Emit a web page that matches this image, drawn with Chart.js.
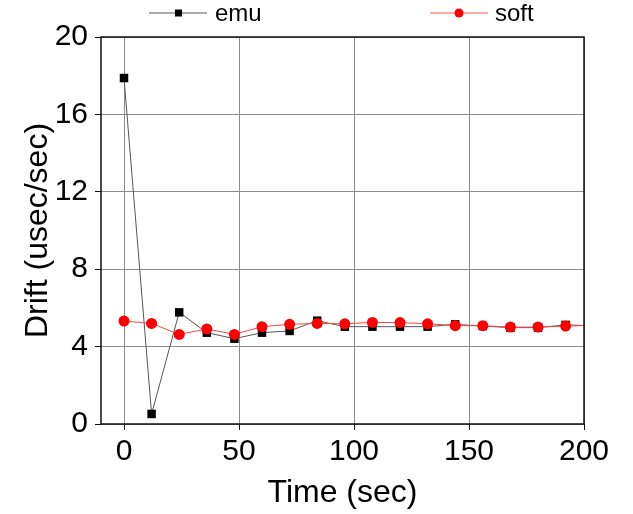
<!DOCTYPE html>
<html>
<head>
<meta charset="utf-8">
<script src="https://cdn.jsdelivr.net/npm/chart.js@4/dist/chart.umd.min.js"></script>
<style>
  html, body { margin: 0; padding: 0; background: #fff; }
  #wrap { width: 633px; height: 514px; }
</style>
</head>
<body>
<div id="wrap"><canvas id="driftChart" width="633" height="514"></canvas></div>
<script>
// sample times (sec) and measured drift (usec/sec)
const times = [0, 12, 24, 36, 48, 60, 72, 84, 96, 108, 120, 132, 144, 156, 168, 180, 192, 204];
const emuDrift = [17.88, 0.52, 5.77, 4.72, 4.41, 4.72, 4.81, 5.34, 5.03, 5.03, 5.03, 5.03, 5.15, 5.06, 4.98, 4.98, 5.12, 5.08];
const softDrift = [5.32, 5.2, 4.63, 4.91, 4.63, 5.03, 5.15, 5.2, 5.18, 5.25, 5.24, 5.18, 5.08, 5.08, 5.01, 5.01, 5.06, 5.1];
const xTicks = [0, 50, 100, 150, 200];
const yTicks = [0, 2, 4, 6, 8, 10, 12, 14, 16, 18, 20];

const FONT = "'Liberation Sans', Arial, sans-serif";

function toPoints(ys) {
  return times.map((t, i) => ({ x: t, y: ys[i] }));
}

// frame + legend drawn by hand to match the original layout
const framePlugin = {
  id: "frame",
  afterDraw(chart) {
    const { ctx, chartArea: a } = chart;
    ctx.save();
    ctx.strokeStyle = "#111";
    ctx.lineWidth = 1.5;
    ctx.strokeRect(a.left, a.top, a.right - a.left, a.bottom - a.top);

    // legend
    ctx.font = "24px " + FONT;
    ctx.textBaseline = "middle";
    ctx.fillStyle = "#000";
    const ly = 13;
    ctx.lineWidth = 1;
    ctx.strokeStyle = "#555";
    ctx.beginPath(); ctx.moveTo(149, ly); ctx.lineTo(207, ly); ctx.stroke();
    ctx.fillStyle = "#000";
    ctx.fillRect(175, ly - 3.5, 7, 7);
    ctx.fillText("emu", 215, ly + 1);

    ctx.strokeStyle = "#f55";
    ctx.beginPath(); ctx.moveTo(430, ly); ctx.lineTo(488, ly); ctx.stroke();
    ctx.fillStyle = "#f00";
    ctx.beginPath(); ctx.arc(459, ly, 4.5, 0, Math.PI * 2); ctx.fill();
    ctx.fillStyle = "#000";
    ctx.fillText("soft", 495, ly + 1);
    ctx.restore();
  }
};

const ctx = document.getElementById("driftChart").getContext("2d");
new Chart(ctx, {
  type: "line",
  data: {
    datasets: [
      {
        label: "emu",
        data: toPoints(emuDrift),
        borderColor: "#555",
        borderWidth: 1,
        backgroundColor: "#000",
        pointStyle: "rect",
        pointRadius: 6,
        pointBorderWidth: 0,
        pointBackgroundColor: "#000",
        tension: 0,
        clip: 0,
        order: 2
      },
      {
        label: "soft",
        data: toPoints(softDrift),
        borderColor: "#f44",
        borderWidth: 1,
        backgroundColor: "#f00",
        pointStyle: "circle",
        pointRadius: 5.5,
        pointBorderWidth: 0,
        pointBackgroundColor: "#f00",
        tension: 0,
        clip: 0,
        order: 1
      }
    ]
  },
  options: {
    responsive: false,
    animation: false,
    layout: { padding: { left: 0, top: 37, right: 49, bottom: 0 } },
    plugins: {
      legend: { display: false },
      tooltip: { enabled: false }
    },
    scales: {
      x: {
        type: "linear",
        min: -10,
        max: 200,
        afterBuildTicks(scale) {
          scale.ticks = xTicks.map(v => ({ value: v }));
        },
        afterFit(scale) { scale.height = 90; },
        border: { display: false },
        grid: { color: "#8c8c8c", lineWidth: 1, tickLength: 6, tickColor: "#111" },
        ticks: { color: "#000", padding: 4, maxRotation: 0, font: { family: FONT, size: 30 } },
        title: { display: true, text: "Time (sec)", color: "#000", padding: { top: 0, bottom: 2 }, font: { family: FONT, size: 32 } }
      },
      y: {
        min: 0,
        max: 20,
        afterBuildTicks(scale) {
          scale.ticks = yTicks.map(v => ({ value: v }));
        },
        afterFit(scale) { scale.width = 101; },
        border: { display: false },
        grid: {
          color: c => (c.tick && c.tick.value % 4 === 0 ? "#8c8c8c" : "rgba(0,0,0,0)"),
          lineWidth: 1,
          tickLength: 6,
          tickColor: "#111"
        },
        ticks: {
          color: "#000",
          padding: 7,
          font: { family: FONT, size: 30 },
          callback: v => (v % 4 === 0 ? String(v) : "")
        },
        title: { display: true, text: "Drift (usec/sec)", color: "#000", padding: { top: 19, bottom: 0 }, font: { family: FONT, size: 32 } }
      }
    }
  },
  plugins: [framePlugin]
});
</script>
</body>
</html>
